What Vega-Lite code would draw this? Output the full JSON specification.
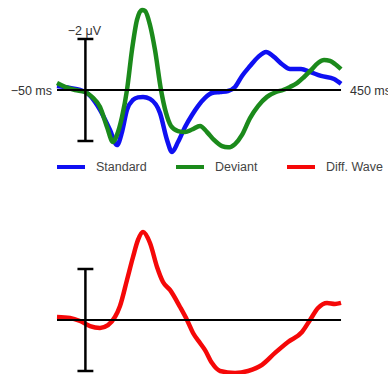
{
  "$schema": "https://vega.github.io/schema/vega-lite/v6.json",
  "padding": 0,
  "spacing": 0,
  "bounds": "flush",
  "config": {"view": {"stroke": null}, "text": {"font": "Liberation Sans", "fontSize": 12.5, "color": "#333"}},
  "resolve": {"scale": {"x": "independent", "y": "independent", "color": "independent"}},
  "datasets": {
    "waves": [
      {"series": "Standard", "t": -50, "v": -0.16},
      {"series": "Standard", "t": -27, "v": -0.08},
      {"series": "Standard", "t": -9.5, "v": 0},
      {"series": "Standard", "t": 2.8, "v": 0.12},
      {"series": "Standard", "t": 16.9, "v": 0.47},
      {"series": "Standard", "t": 25.7, "v": 0.78},
      {"series": "Standard", "t": 43.3, "v": 1.57},
      {"series": "Standard", "t": 55.6, "v": 2.16},
      {"series": "Standard", "t": 64.4, "v": 1.65},
      {"series": "Standard", "t": 73.2, "v": 0.78},
      {"series": "Standard", "t": 83.8, "v": 0.39},
      {"series": "Standard", "t": 92.6, "v": 0.29},
      {"series": "Standard", "t": 101.4, "v": 0.27},
      {"series": "Standard", "t": 113.7, "v": 0.35},
      {"series": "Standard", "t": 131.3, "v": 0.9},
      {"series": "Standard", "t": 143.7, "v": 1.96},
      {"series": "Standard", "t": 152.5, "v": 2.43},
      {"series": "Standard", "t": 163, "v": 2.04},
      {"series": "Standard", "t": 175.4, "v": 1.45},
      {"series": "Standard", "t": 187.7, "v": 0.98},
      {"series": "Standard", "t": 198.2, "v": 0.63},
      {"series": "Standard", "t": 210.6, "v": 0.31},
      {"series": "Standard", "t": 222.9, "v": 0.12},
      {"series": "Standard", "t": 237, "v": 0.08},
      {"series": "Standard", "t": 251.1, "v": 0.04},
      {"series": "Standard", "t": 263.4, "v": -0.12},
      {"series": "Standard", "t": 275.7, "v": -0.55},
      {"series": "Standard", "t": 289.8, "v": -0.94},
      {"series": "Standard", "t": 303.9, "v": -1.29},
      {"series": "Standard", "t": 318, "v": -1.49},
      {"series": "Standard", "t": 330.3, "v": -1.33},
      {"series": "Standard", "t": 347.9, "v": -0.98},
      {"series": "Standard", "t": 360.2, "v": -0.82},
      {"series": "Standard", "t": 379.6, "v": -0.82},
      {"series": "Standard", "t": 395.4, "v": -0.71},
      {"series": "Standard", "t": 414.8, "v": -0.55},
      {"series": "Standard", "t": 437.7, "v": -0.43},
      {"series": "Standard", "t": 450, "v": -0.24},
      {"series": "Deviant", "t": -50, "v": -0.27},
      {"series": "Deviant", "t": -35.9, "v": -0.12},
      {"series": "Deviant", "t": -18.3, "v": 0},
      {"series": "Deviant", "t": -0.7, "v": 0.08},
      {"series": "Deviant", "t": 11.6, "v": 0.27},
      {"series": "Deviant", "t": 25.7, "v": 0.67},
      {"series": "Deviant", "t": 38, "v": 1.45},
      {"series": "Deviant", "t": 48.6, "v": 2.04},
      {"series": "Deviant", "t": 55.6, "v": 1.76},
      {"series": "Deviant", "t": 64.4, "v": 1.06},
      {"series": "Deviant", "t": 73.2, "v": 0},
      {"series": "Deviant", "t": 82, "v": -1.57},
      {"series": "Deviant", "t": 90.8, "v": -2.75},
      {"series": "Deviant", "t": 99.6, "v": -3.14},
      {"series": "Deviant", "t": 104.9, "v": -3.1},
      {"series": "Deviant", "t": 113.7, "v": -2.55},
      {"series": "Deviant", "t": 122.5, "v": -1.57},
      {"series": "Deviant", "t": 133.1, "v": 0},
      {"series": "Deviant", "t": 141.9, "v": 0.9},
      {"series": "Deviant", "t": 150.7, "v": 1.41},
      {"series": "Deviant", "t": 163, "v": 1.61},
      {"series": "Deviant", "t": 175.4, "v": 1.65},
      {"series": "Deviant", "t": 187.7, "v": 1.55},
      {"series": "Deviant", "t": 201.8, "v": 1.41},
      {"series": "Deviant", "t": 214.1, "v": 1.65},
      {"series": "Deviant", "t": 226.4, "v": 1.96},
      {"series": "Deviant", "t": 240.5, "v": 2.2},
      {"series": "Deviant", "t": 251.1, "v": 2.25},
      {"series": "Deviant", "t": 263.4, "v": 2.12},
      {"series": "Deviant", "t": 275.7, "v": 1.76},
      {"series": "Deviant", "t": 289.8, "v": 1.1},
      {"series": "Deviant", "t": 303.9, "v": 0.63},
      {"series": "Deviant", "t": 319.7, "v": 0.27},
      {"series": "Deviant", "t": 335.6, "v": 0.08},
      {"series": "Deviant", "t": 347.9, "v": 0},
      {"series": "Deviant", "t": 360.2, "v": -0.12},
      {"series": "Deviant", "t": 372.5, "v": -0.27},
      {"series": "Deviant", "t": 384.9, "v": -0.51},
      {"series": "Deviant", "t": 397.2, "v": -0.78},
      {"series": "Deviant", "t": 409.5, "v": -1.06},
      {"series": "Deviant", "t": 420.1, "v": -1.18},
      {"series": "Deviant", "t": 430.6, "v": -1.14},
      {"series": "Deviant", "t": 439.4, "v": -1.02},
      {"series": "Deviant", "t": 450, "v": -0.82},
      {"series": "Diff. Wave", "t": -50, "v": -0.12},
      {"series": "Diff. Wave", "t": -27.1, "v": -0.08},
      {"series": "Diff. Wave", "t": -9.5, "v": 0.04},
      {"series": "Diff. Wave", "t": 8.1, "v": 0.24},
      {"series": "Diff. Wave", "t": 25.7, "v": 0.31},
      {"series": "Diff. Wave", "t": 39.8, "v": 0.2},
      {"series": "Diff. Wave", "t": 52.1, "v": -0.12},
      {"series": "Diff. Wave", "t": 60.9, "v": -0.55},
      {"series": "Diff. Wave", "t": 73.2, "v": -1.57},
      {"series": "Diff. Wave", "t": 83.8, "v": -2.47},
      {"series": "Diff. Wave", "t": 92.6, "v": -3.14},
      {"series": "Diff. Wave", "t": 101.4, "v": -3.45},
      {"series": "Diff. Wave", "t": 113.7, "v": -3.02},
      {"series": "Diff. Wave", "t": 126.1, "v": -2.08},
      {"series": "Diff. Wave", "t": 136.6, "v": -1.49},
      {"series": "Diff. Wave", "t": 148.9, "v": -1.18},
      {"series": "Diff. Wave", "t": 166.6, "v": -0.51},
      {"series": "Diff. Wave", "t": 178.9, "v": 0},
      {"series": "Diff. Wave", "t": 189.5, "v": 0.51},
      {"series": "Diff. Wave", "t": 201.8, "v": 0.9},
      {"series": "Diff. Wave", "t": 210.6, "v": 1.18},
      {"series": "Diff. Wave", "t": 222.9, "v": 1.69},
      {"series": "Diff. Wave", "t": 237, "v": 2.0},
      {"series": "Diff. Wave", "t": 263.4, "v": 2.08},
      {"series": "Diff. Wave", "t": 286.3, "v": 2.0},
      {"series": "Diff. Wave", "t": 310.9, "v": 1.76},
      {"series": "Diff. Wave", "t": 333.8, "v": 1.29},
      {"series": "Diff. Wave", "t": 356.7, "v": 0.86},
      {"series": "Diff. Wave", "t": 381.3, "v": 0.47},
      {"series": "Diff. Wave", "t": 395.4, "v": 0},
      {"series": "Diff. Wave", "t": 409.5, "v": -0.47},
      {"series": "Diff. Wave", "t": 425.4, "v": -0.67},
      {"series": "Diff. Wave", "t": 439.4, "v": -0.63},
      {"series": "Diff. Wave", "t": 450, "v": -0.67}
    ]
  },
  "vconcat": [
    {
      "width": 388,
      "height": 187,
      "data": {"name": "waves"},
      "encoding": {
        "x": {"field": "t", "type": "quantitative", "scale": {"domain": [-150.35, 532.7], "nice": false, "zero": false}, "axis": null},
        "y": {"field": "v", "type": "quantitative", "scale": {"domain": [-3.529, 3.804], "reverse": true, "nice": false, "zero": false}, "axis": null}
      },
      "layer": [
        {
          "transform": [{"filter": "datum.series === 'Standard'"}],
          "mark": {"type": "line", "strokeWidth": 4.5, "interpolate": "monotone"},
          "encoding": {
            "color": {"field": "series", "type": "nominal",
              "scale": {"domain": ["Standard", "Deviant", "Diff. Wave"], "range": ["#0f10f2", "#1b8a1b", "#f50808"]},
              "legend": {"title": null, "orient": "none", "legendX": 55, "legendY": 151, "direction": "horizontal", "symbolType": "stroke", "symbolSize": 784, "symbolStrokeWidth": 4, "labelOffset": 9, "columnPadding": 21, "labelFont": "Liberation Sans", "labelFontSize": 12.5, "labelColor": "#444", "padding": 0}
            }
          }
        },
        {
          "transform": [{"filter": "datum.series === 'Deviant'"}],
          "mark": {"type": "line", "strokeWidth": 4.5, "interpolate": "monotone"},
          "encoding": {
            "color": {"field": "series", "type": "nominal",
              "scale": {"domain": ["Standard", "Deviant", "Diff. Wave"], "range": ["#0f10f2", "#1b8a1b", "#f50808"]},
              "legend": {"title": null, "orient": "none", "legendX": 55, "legendY": 151, "direction": "horizontal", "symbolType": "stroke", "symbolSize": 784, "symbolStrokeWidth": 4, "labelOffset": 9, "columnPadding": 21, "labelFont": "Liberation Sans", "labelFontSize": 12.5, "labelColor": "#444", "padding": 0}
            }
          }
        },
        {
          "data": {"values": [{"t": -50, "t2": 450, "v": 0}]},
          "mark": {"type": "rule", "color": "#000", "strokeWidth": 2},
          "encoding": {"x2": {"field": "t2"}}
        },
        {
          "data": {"values": [{"t": 0, "v": -2, "v2": 2}]},
          "mark": {"type": "rule", "color": "#000", "strokeWidth": 2.5},
          "encoding": {"y2": {"field": "v2"}}
        },
        {
          "data": {"values": [{"t": -14, "t2": 14, "v": -2}, {"t": -14, "t2": 14, "v": 2}]},
          "mark": {"type": "rule", "color": "#000", "strokeWidth": 2.5},
          "encoding": {"x2": {"field": "t2"}}
        },
        {
          "data": {"values": [{"t": -50, "v": 0, "label": "−50 ms"}]},
          "mark": {"type": "text", "align": "right", "baseline": "middle", "dx": -5, "dy": 1},
          "encoding": {"text": {"field": "label"}}
        },
        {
          "data": {"values": [{"t": 450, "v": 0, "label": "450 ms"}]},
          "mark": {"type": "text", "align": "left", "baseline": "middle", "dx": 9, "dy": 1},
          "encoding": {"text": {"field": "label"}}
        },
        {
          "data": {"values": [{"t": 0, "v": -2, "label": "−2 μV"}]},
          "mark": {"type": "text", "align": "center", "baseline": "alphabetic", "dx": -1, "dy": -4},
          "encoding": {"text": {"field": "label"}}
        }
      ]
    },
    {
      "width": 388,
      "height": 187,
      "data": {"name": "waves"},
      "encoding": {
        "x": {"field": "t", "type": "quantitative", "scale": {"domain": [-150.35, 532.7], "nice": false, "zero": false}, "axis": null},
        "y": {"field": "v", "type": "quantitative", "scale": {"domain": [-5.216, 2.118], "reverse": true, "nice": false, "zero": false}, "axis": null}
      },
      "layer": [
        {
          "transform": [{"filter": "datum.series === 'Diff. Wave'"}],
          "mark": {"type": "line", "strokeWidth": 4.5, "interpolate": "monotone"},
          "encoding": {
            "color": {"field": "series", "type": "nominal",
              "scale": {"domain": ["Standard", "Deviant", "Diff. Wave"], "range": ["#0f10f2", "#1b8a1b", "#f50808"]},
              "legend": null
            }
          }
        },
        {
          "data": {"values": [{"t": -50, "t2": 450, "v": 0}]},
          "mark": {"type": "rule", "color": "#000", "strokeWidth": 2},
          "encoding": {"x2": {"field": "t2"}}
        },
        {
          "data": {"values": [{"t": 0, "v": -2, "v2": 2}]},
          "mark": {"type": "rule", "color": "#000", "strokeWidth": 2.5},
          "encoding": {"y2": {"field": "v2"}}
        },
        {
          "data": {"values": [{"t": -14, "t2": 14, "v": -2}, {"t": -14, "t2": 14, "v": 2}]},
          "mark": {"type": "rule", "color": "#000", "strokeWidth": 2.5},
          "encoding": {"x2": {"field": "t2"}}
        }
      ]
    }
  ]
}
